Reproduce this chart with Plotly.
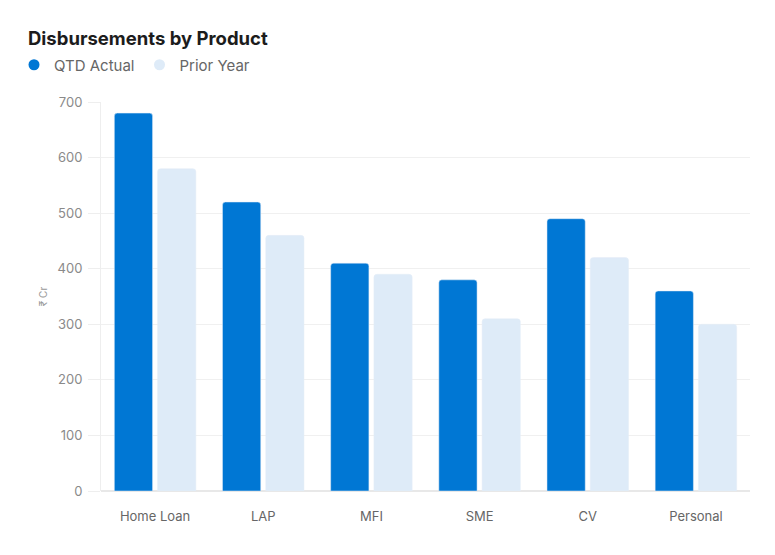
import plotly.graph_objects as go

categories = ["Home Loan", "LAP", "MFI", "SME", "CV", "Personal"]
qtd_actual = [680, 520, 410, 380, 490, 360]
prior_year = [580, 460, 390, 310, 420, 300]
y_ticks = [0, 100, 200, 300, 400, 500, 600, 700]

C_ACT = "#0077d4"
C_PRI = "#deebf8"
FONT = "Inter, Noto Sans, sans-serif"

# page body adds an 8px offset; layout numbers below are in figure pixels
W, H = 775, 555
ML, MR, MT, MB = 93, 33, 94, 72
PW = W - ML - MR
PH = H - MT - MB

fig = go.Figure()
fig.add_trace(go.Bar(x=categories, y=qtd_actual, name="QTD Actual",
                     marker=dict(color=C_ACT), showlegend=False))
fig.add_trace(go.Bar(x=categories, y=prior_year, name="Prior Year",
                     marker=dict(color=C_PRI), showlegend=False))
fig.add_trace(go.Scatter(x=[None], y=[None], mode="markers", name="QTD Actual",
                         marker=dict(symbol="circle", size=11, color=C_ACT)))
fig.add_trace(go.Scatter(x=[None], y=[None], mode="markers", name="Prior Year",
                         marker=dict(symbol="circle", size=11, color=C_PRI)))

fig.update_layout(
    width=W, height=H,
    paper_bgcolor="white", plot_bgcolor="white",
    margin=dict(l=ML, r=MR, t=MT, b=MB, autoexpand=False),
    font=dict(family=FONT, color="#777777", size=12),
    title=dict(text="<b>Disbursements by Product</b>", x=20/W, xanchor="left",
               y=1-31/H, yanchor="middle",
               font=dict(family=FONT, size=18.5, color="#1c1c1c")),
    legend=dict(orientation="h", x=(6-ML)/PW, xref="paper", xanchor="left",
                y=1+(MT-57)/PH, yanchor="middle",
                font=dict(family=FONT, size=15, color="#666666"),
                itemwidth=30, tracegroupgap=0),
    barmode="group", bargap=0.2, bargroupgap=0.116,
    barcornerradius=3,
    xaxis=dict(showgrid=False, showline=False, ticks="", ticklabelstandoff=16,
               tickfont=dict(size=13, color="#666666")),
    yaxis=dict(range=[0, 700], tickvals=y_ticks, showgrid=True, gridcolor="#f0f0f0",
               gridwidth=1, zeroline=True, zerolinecolor="#e8e8e8", showline=True,
               linecolor="#eeeeee", ticks="outside", ticklen=12, tickcolor="#eeeeee",
               ticklabelstandoff=3,
               tickfont=dict(size=13, color="#8a8a8a"),
               title=dict(text="₹ Cr", font=dict(size=10, color="#999999"), standoff=8)),
)

fig.write_html("out.html")
